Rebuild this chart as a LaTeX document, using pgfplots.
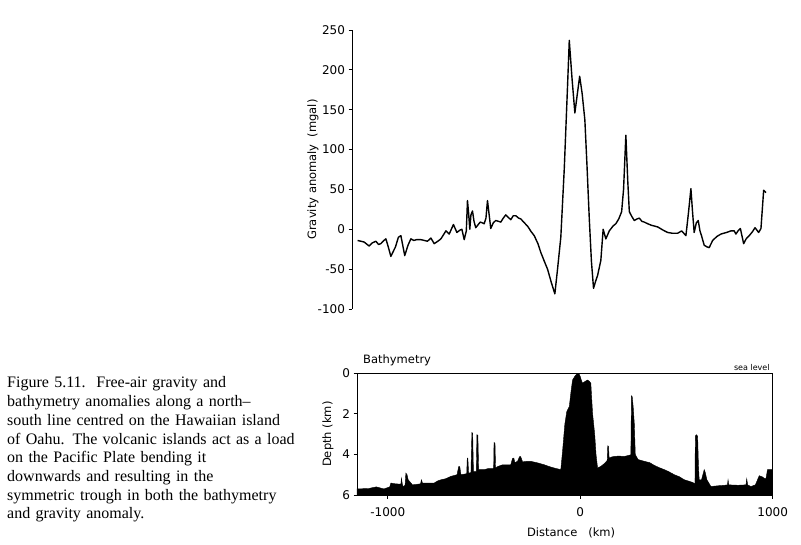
\documentclass[border=0pt]{standalone}
\usepackage{pgfplots}
\pgfplotsset{compat=1.18}
\usepackage{fontspec}
\setmainfont{DejaVu Sans}
\newfontfamily\capfont[Ligatures=TeX]{Liberation Serif}

\begin{document}
\begin{tikzpicture}[x=1pt,y=1pt]
\useasboundingbox (0,0) rectangle (801,544);

% caption
\node[anchor=base west, inner sep=0pt, text width=300pt, align=left,
      font=\capfont\fontsize{16}{18.7}\selectfont] at (7,156)
{Figure 5.11.\ \ Free-air gravity and\\
bathymetry anomalies along a north–\\
south line centred on the Hawaiian island\\
of Oahu. The volcanic islands act as a load\\
on the Pacific Plate bending it\\
downwards and resulting in the\\
symmetric trough in both the bathymetry\\
and gravity anomaly.};

% gravity anomaly
\begin{axis}[
    at={(352pt,235pt)}, anchor=south west,
    scale only axis, width=420.7pt, height=279pt,
    xmin=-1186, xmax=1000, ymin=-100, ymax=250,
    axis x line=none, axis y line=left,
    axis line style={-, line width=0.9pt},
    ytick={-100,-50,...,250},
    tick align=outside, major tick length=3.5pt,
    tick style={line width=0.9pt, black},
    /pgf/number format/assume math mode=true,
    yticklabel style={font=\fontsize{12}{14}\selectfont},
    ylabel={Gravity anomaly\ \ (mgal)},
    ylabel style={font=\fontsize{11.5}{13}\selectfont, at={(axis description cs:-0.0927,0.5)}, anchor=center},
    clip=false
]
\addplot[black, line width=1.4pt, line join=round] coordinates {
(-1157,-14) (-1140,-15) (-1123,-16) (-1097,-21) (-1080,-17) (-1062,-15) (-1048,-19) (-1036,-18)
(-1020,-14) (-1010,-12) (-1000,-20) (-984,-34) (-960,-22) (-945,-10) (-932,-8) (-912,-33)
(-895,-20) (-880,-12) (-865,-14) (-850,-13) (-828,-13) (-810,-14) (-794,-15) (-776,-11)
(-759,-18) (-740,-15) (-724,-12) (-698,-2) (-681,-6) (-659,6) (-641,-4) (-625,-1) (-615,0)
(-603,-13) (-592,-2) (-586,36) (-580,20) (-574,0) (-568,18) (-560,23) (-552,10) (-543,2)
(-530,6) (-520,9) (-508,8) (-499,7) (-490,14) (-482,36) (-465,1) (-452,8) (-439,11)
(-425,10) (-413,9) (-400,14) (-387,18) (-374,15) (-361,12) (-348,17) (-335,17) (-320,14)
(-309,13) (-290,8) (-274,4) (-255,-3) (-239,-8) (-220,-18) (-205,-29) (-187,-40) (-170,-50)
(-150,-67) (-132,-81) (-118,-50) (-101,-10) (-83,76) (-66,180) (-57,237) (-43,190) (-28,146)
(-15,170) (-3,192) (10,170) (24,137) (35,80) (47,13) (58,-40) (69,-74) (80,-65) (90,-58)
(107,-39) (119,0) (133,-12) (151,-2) (170,4) (185,7) (200,13) (215,22) (225,50) (237,118)
(247,60) (255,22) (268,16) (281,11) (295,13) (307,14) (320,10) (333,9) (350,7) (370,5)
(402,3) (430,-1) (454,-4) (480,-5) (506,-5) (527,-2) (549,-8) (562,20) (575,51) (584,20)
(592,-4) (603,8) (613,11) (622,-2) (630,-8) (644,-20) (658,-22) (670,-23) (688,-14) (710,-9)
(731,-6) (760,-4) (783,-2) (800,-2) (809,-6) (820,-2) (832,1) (849,-18) (862,-12) (878,-8)
(895,-3) (908,2) (927,-4) (939,1) (953,49) (965,46)
};
\end{axis}

% bathymetry
\begin{axis}[
    at={(357pt,49pt)}, anchor=south west,
    scale only axis, width=415.7pt, height=121.7pt,
    xmin=-1160, xmax=1000, ymin=0, ymax=6,
    y dir=reverse,
    axis line style={line width=0.9pt},
    xtick={-1000,0,1000}, ytick={0,2,4,6},
    tick pos=left, tick align=outside, major tick length=3.5pt,
    tick style={line width=0.9pt, black},
    /pgf/number format/assume math mode=true,
    /pgf/number format/set thousands separator={},
    ticklabel style={font=\fontsize{12}{14}\selectfont},
    xticklabel style={yshift=-6pt},
    xlabel={Distance\ \ \ (km)},
    xlabel style={font=\fontsize{11.5}{13}\selectfont, at={(axis description cs:0.515,-0.312)}, anchor=center},
    ylabel={Depth (km)},
    ylabel style={font=\fontsize{11.5}{13}\selectfont, at={(axis description cs:-0.0698,0.5)}, anchor=center},
    clip=false
]
\addplot[fill=black, draw=black, line width=0.4pt] coordinates {
(-1160,6) (-1160,5.7) (-1100,5.68) (-1060,5.6) (-1020,5.7) (-990,5.6) (-984,5.41) (-960,5.45)
(-941,5.46) (-932,5.46) (-929,5.17) (-924,5.5) (-918,5.6) (-910,5.5) (-906,4.92) (-900,5.0)
(-894,5.25) (-872,5.5) (-830,5.45) (-825,5.25) (-820,5.41) (-802,5.41) (-759,5.41) (-740,5.3)
(-724,5.25) (-700,5.2) (-672,5.08) (-640,5.0) (-632,4.6) (-626,4.6) (-620,5.0) (-590,4.95)
(-587,4.18) (-584,4.2) (-580,4.92) (-568,4.9) (-563,2.92) (-559,2.95) (-555,4.84) (-540,4.84)
(-537,3.03) (-532,3.05) (-528,4.75) (-499,4.75) (-480,4.7) (-450,4.7) (-448,3.41) (-443,3.45)
(-440,4.67) (-430,4.6) (-404,4.51) (-361,4.51) (-352,4.2) (-345,4.18) (-340,4.4) (-326,4.34)
(-315,4.1) (-310,4.1) (-300,4.35) (-257,4.34) (-220,4.42) (-187,4.51) (-160,4.6) (-135,4.67)
(-101,4.75) (-92,3.85) (-80,2.5) (-70,1.89) (-57,1.64) (-48,0.9) (-40,0.33) (-25,0.1)
(-14,0) (-5,0.05) (0,0.16) (6,0.35) (12,0.49) (25,0.4) (38,0.33) (48,0.4) (55,0.49)
(58,1.0) (64,1.97) (75,3.0) (82,4.0) (90,4.67) (107,4.59) (125,4.45) (140,4.3) (143,3.57)
(147,3.6) (150,4.18) (165,4.12) (177,4.1) (200,4.08) (229,4.1) (250,4.05) (263,4.02)
(266,1.11) (270,1.15) (275,1.64) (281,2.5) (286,4.0) (300,4.25) (333,4.34) (360,4.4)
(385,4.54) (410,4.65) (437,4.75) (460,4.85) (489,5.0) (515,5.1) (541,5.25) (565,5.32)
(584,5.38) (596,5.45) (598,3.1) (603,3.03) (610,3.1) (614,4.5) (618,5.25) (630,5.25)
(640,4.9) (644,4.75) (650,4.9) (658,5.25) (679,5.58) (700,5.56) (722,5.54) (750,5.52)
(765,5.5) (768,5.25) (772,5.5) (820,5.52) (861,5.5) (865,5.2) (870,5.5) (887,5.58)
(910,5.5) (930,5.05) (945,5.1) (956,5.17) (965,5.2) (973,4.75) (1000,4.75) (1000,6)
};
\node[anchor=west, font=\fontsize{11.5}{13}\selectfont, inner sep=0pt] at (rel axis cs:0.0144,1.109) {Bathymetry};
\node[anchor=base east, font=\fontsize{8}{9}\selectfont, inner sep=0pt] at (rel axis cs:0.993,1.02) {sea level};
\end{axis}
\end{tikzpicture}
\end{document}
